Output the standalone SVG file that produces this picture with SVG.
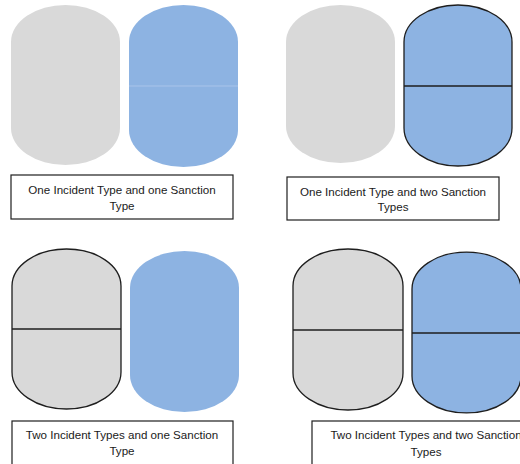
<svg xmlns="http://www.w3.org/2000/svg" width="520" height="464" viewBox="0 0 520 464">
<style>
.g{fill:#d9d9d9}
.b{fill:#8db3e2}
.o{stroke:#1e1e1e;stroke-width:1.3}
.fl{stroke:#a9c4ea;stroke-width:1}
.ln{stroke:#1e1e1e;stroke-width:1.3;fill:none}
.box{fill:#fff;stroke:#1e1e1e;stroke-width:1.2}
.t{font-family:"Liberation Sans",Arial,sans-serif;font-size:11.6px;fill:#1a1a1a;text-anchor:middle}
</style>
<rect width="520" height="464" fill="#fff"/>
<g id="panel1">
  <path class="g" d="M11,42 L11,128 A54.5,37 0 0 0 120,128 L120,42 A54.5,37 0 0 0 11,42 Z"/>
  <path class="b" d="M129,42 L129,130 A54.5,37 0 0 0 238,130 L238,42 A54.5,37 0 0 0 129,42 Z"/>
  <line class="fl" x1="129" y1="86" x2="238" y2="86"/>
  <rect class="box" x="11" y="175" width="222" height="44"/>
  <text class="t" x="122" y="194">One Incident Type and one Sanction</text>
  <text class="t" x="122" y="210">Type</text>
</g>
<g id="panel2">
  <path class="g" d="M286,42 L286,126 A54.5,37 0 0 0 395,126 L395,42 A54.5,37 0 0 0 286,42 Z"/>
  <path class="b o" d="M404,42 L404,128 A54,38 0 0 0 512,128 L512,42 A54,37 0 0 0 404,42 Z"/>
  <line class="ln" x1="404" y1="86" x2="512" y2="86"/>
  <rect class="box" x="287" y="177" width="212" height="43"/>
  <text class="t" x="393" y="196">One Incident Type and two Sanction</text>
  <text class="t" x="393" y="211">Types</text>
</g>
<g id="panel3">
  <path class="g o" d="M12,286 L12,372 A54.5,37 0 0 0 121,372 L121,286 A54.5,37 0 0 0 12,286 Z"/>
  <line class="ln" x1="12" y1="329" x2="121" y2="329"/>
  <path class="b" d="M130,288 L130,375 A54.5,37 0 0 0 239,375 L239,288 A54.5,37 0 0 0 130,288 Z"/>
  <rect class="box" x="12" y="421" width="221" height="50"/>
  <text class="t" x="122" y="439">Two Incident Types and one Sanction</text>
  <text class="t" x="122" y="455">Type</text>
</g>
<g id="panel4">
  <path class="g o" d="M293,286 L293,373 A55,37 0 0 0 403,373 L403,286 A55,37 0 0 0 293,286 Z"/>
  <line class="ln" x1="293" y1="330" x2="403" y2="330"/>
  <path class="b o" d="M412,289 L412,376 A54.5,37 0 0 0 521,376 L521,289 A54.5,37 0 0 0 412,289 Z"/>
  <line class="ln" x1="412" y1="333" x2="521" y2="333"/>
  <rect class="box" x="312" y="421" width="220" height="50"/>
  <text class="t" x="426" y="439">Two Incident Types and two Sanction</text>
  <text class="t" x="426" y="456">Types</text>
</g>
</svg>
